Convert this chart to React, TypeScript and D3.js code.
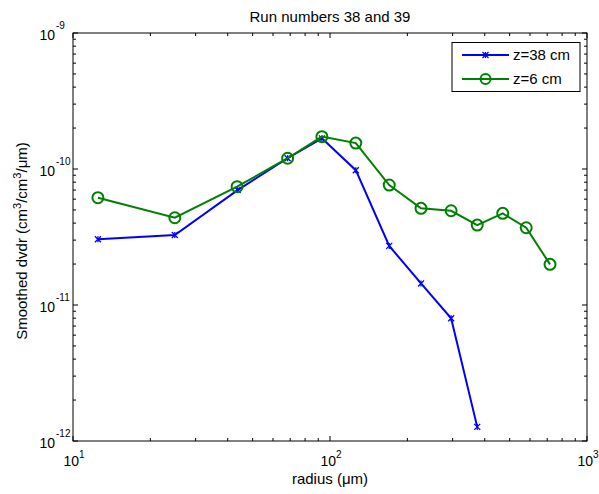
import React from 'react';
import * as d3 from 'd3';

const blueX = [12.5, 24.9, 43.7, 68.4, 93, 126, 170, 226, 296, 374];
const blueY = [3.04e-11, 3.27e-11, 7.0e-11, 1.2e-10, 1.68e-10, 9.8e-11, 2.72e-11, 1.44e-11, 7.98e-12, 1.27e-12];
const greenX = [12.5, 24.9, 43.5, 68.4, 93, 126, 170, 226, 296, 374, 470, 580, 718];
const greenY = [6.15e-11, 4.38e-11, 7.41e-11, 1.2e-10, 1.73e-10, 1.55e-10, 7.62e-11, 5.14e-11, 4.93e-11, 3.87e-11, 4.72e-11, 3.7e-11, 1.99e-11];
const xDecades = [1, 2, 3];
const yDecades = [-12, -11, -10, -9];

const W = 599, H = 494;
const m = { left: 73, right: 587, top: 33, bottom: 441 };
const font = '"Liberation Sans", Arial, sans-serif';

export default function App() {
  const x = d3.scaleLog().domain([10, 1000]).range([m.left, m.right]);
  const y = d3.scaleLog().domain([1e-12, 1e-9]).range([m.bottom, m.top]);
  const line = d3.line<[number, number]>().x(d => x(d[0])).y(d => y(d[1]));
  const blue = blueX.map((v, i) => [v, blueY[i]] as [number, number]);
  const green = greenX.map((v, i) => [v, greenY[i]] as [number, number]);

  const xMinor: number[] = [];
  for (let e = 1; e < 3; e++) for (let k = 2; k <= 9; k++) xMinor.push(k * Math.pow(10, e));
  const yMinor: number[] = [];
  for (let e = -12; e < -9; e++) for (let k = 2; k <= 9; k++) yMinor.push(k * Math.pow(10, e));

  const major = 5, minor = 3;

  const star = (cx: number, cy: number, key: number) => (
    <g key={key} stroke="#0000ff" strokeWidth={1.3}>
      <line x1={cx - 3} y1={cy - 3} x2={cx + 3} y2={cy + 3} />
      <line x1={cx - 3} y1={cy + 3} x2={cx + 3} y2={cy - 3} />
      <line x1={cx} y1={cy - 3} x2={cx} y2={cy + 3} />
    </g>
  );

  return (
    <svg width={W} height={H} style={{ position: 'absolute', left: 0, top: 0 }} fontFamily={font}>
      <rect width={W} height={H} fill="#fff" />
      <text x={(m.left + m.right) / 2} y={22} textAnchor="middle" fontSize={15}>Run numbers 38 and 39</text>

      {/* ticks */}
      <g stroke="#000" strokeWidth={1}>
        {xDecades.map(e => {
          const px = x(Math.pow(10, e));
          return (
            <g key={'xM' + e}>
              <line x1={px} x2={px} y1={m.bottom} y2={m.bottom - major} />
              <line x1={px} x2={px} y1={m.top} y2={m.top + major} />
            </g>
          );
        })}
        {xMinor.map(v => (
          <g key={'xm' + v}>
            <line x1={x(v)} x2={x(v)} y1={m.bottom} y2={m.bottom - minor} />
            <line x1={x(v)} x2={x(v)} y1={m.top} y2={m.top + minor} />
          </g>
        ))}
        {yDecades.map(e => {
          const py = y(Math.pow(10, e));
          return (
            <g key={'yM' + e}>
              <line x1={m.left} x2={m.left + major} y1={py} y2={py} />
              <line x1={m.right} x2={m.right - major} y1={py} y2={py} />
            </g>
          );
        })}
        {yMinor.map(v => (
          <g key={'ym' + v}>
            <line x1={m.left} x2={m.left + minor} y1={y(v)} y2={y(v)} />
            <line x1={m.right} x2={m.right - minor} y1={y(v)} y2={y(v)} />
          </g>
        ))}
      </g>
      <rect x={m.left} y={m.top} width={m.right - m.left} height={m.bottom - m.top} fill="none" stroke="#000" strokeWidth={1} />

      {/* tick labels */}
      {xDecades.map(e => (
        <text key={'xl' + e} x={x(Math.pow(10, e)) + 1} y={466} textAnchor="middle" fontSize={14}>
          10<tspan dy={-8} fontSize={10}>{e}</tspan>
        </text>
      ))}
      {yDecades.map(e => (
        <text key={'yl' + e} x={55} y={y(Math.pow(10, e)) + 7} textAnchor="end" fontSize={14}>
          10
        </text>
      ))}
      {yDecades.map(e => (
        <text key={'ye' + e} x={56} y={y(Math.pow(10, e)) - 4} textAnchor="start" fontSize={10}>
          {e}
        </text>
      ))}

      <text x={(m.left + m.right) / 2} y={484} textAnchor="middle" fontSize={15}>radius (μm)</text>
      <text transform={`translate(27, ${(m.top + m.bottom) / 2 + 4}) rotate(-90)`} textAnchor="middle" fontSize={15}>
        Smoothed dvdr (cm<tspan dy={-6} fontSize={11}>3</tspan><tspan dy={6}>/cm</tspan><tspan dy={-6} fontSize={11}>3</tspan><tspan dy={6}>/μm)</tspan>
      </text>

      {/* series */}
      <path d={line(blue) || ''} fill="none" stroke="#0000ff" strokeWidth={2} />
      {blue.map((d, i) => star(x(d[0]), y(d[1]), i))}
      <path d={line(green) || ''} fill="none" stroke="#008000" strokeWidth={2} />
      {green.map((d, i) => (
        <circle key={i} cx={x(d[0])} cy={y(d[1])} r={5.5} fill="none" stroke="#008000" strokeWidth={2} />
      ))}

      {/* legend */}
      <rect x={452} y={42.5} width={128} height={49} fill="#fff" stroke="#000" strokeWidth={1} />
      <line x1={462} x2={509} y1={55} y2={55} stroke="#0000ff" strokeWidth={2} />
      {star(485.5, 55, 99)}
      <text x={513} y={60} fontSize={15}>z=38 cm</text>
      <line x1={462} x2={509} y1={79} y2={79} stroke="#008000" strokeWidth={2} />
      <circle cx={485.5} cy={79} r={5} fill="none" stroke="#008000" strokeWidth={2} />
      <text x={513} y={84} fontSize={15}>z=6 cm</text>
    </svg>
  );
}
